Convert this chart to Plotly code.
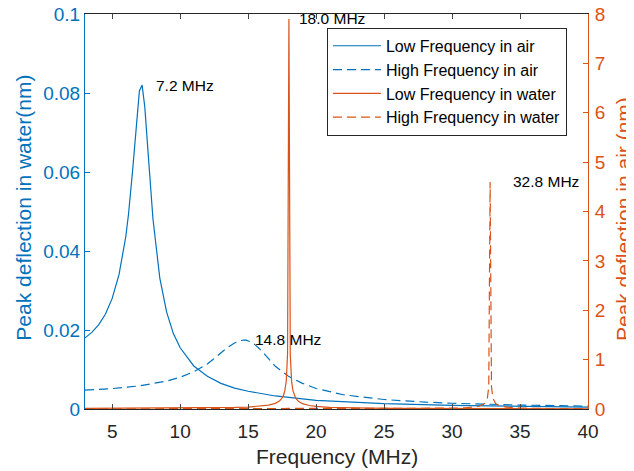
import plotly.graph_objects as go

# ---- data ----
f_low_air = [3, 3.5, 4, 4.5, 5, 5.5, 6, 6.2, 6.5, 6.8, 7.0, 7.2, 7.4, 7.6, 7.8, 8, 8.5, 9, 9.5, 10,
             11, 12, 13, 14, 15, 17, 20, 25, 30, 35, 40]
v_low_air = [0.0180, 0.0194, 0.0213, 0.0240, 0.0280, 0.0340, 0.0436, 0.0493, 0.0603, 0.0735, 0.0805,
             0.0820, 0.0764, 0.0668, 0.0567, 0.0481, 0.0332, 0.0246, 0.0191, 0.0155,
             0.0109, 0.0083, 0.0065, 0.0053, 0.0045, 0.0033, 0.0022, 0.00135, 0.00091, 0.00066, 0.0005]

f_high_air = [3, 5, 7, 9, 10, 11, 12, 13, 13.5, 14, 14.4, 14.8, 15.2, 15.5, 16, 17, 18, 19, 20,
              22, 25, 28, 30, 35, 40]
v_high_air = [0.0048, 0.00517, 0.00585, 0.00707, 0.00805, 0.00942, 0.0114, 0.01415, 0.0156, 0.0167,
              0.0173, 0.0175, 0.0170, 0.0163, 0.0147, 0.0108, 0.0082, 0.0065, 0.0052,
              0.0036, 0.0024, 0.00175, 0.00146, 0.00099, 0.00073]

f_low_water = [3, 5, 8, 10, 12, 13, 14, 15, 16, 16.5, 17, 17.3, 17.5, 17.6, 17.7, 17.8, 17.9, 18.0,
               18.1, 18.2, 18.3, 18.4, 18.5, 18.7, 19, 19.5, 20, 21, 22, 24, 26, 28, 30, 33, 36, 40]
v_low_water = [0.0126, 0.0133, 0.0153, 0.0178, 0.0221, 0.0257, 0.0311, 0.040, 0.0586, 0.077, 0.114,
               0.161, 0.224, 0.280, 0.372, 0.557, 1.11, 7.9,
               1.10, 0.55, 0.366, 0.274, 0.218, 0.155, 0.108, 0.0708, 0.0524, 0.0341, 0.0249, 0.0158,
               0.0113, 0.0087, 0.0069, 0.0052, 0.0041, 0.0031]

f_high_water = [3, 10, 15, 20, 25, 30, 31, 32, 32.4, 32.6, 32.7, 32.8, 32.9, 33.0, 33.2, 33.5, 34,
                35, 37, 40]
v_high_water = [0.0028, 0.0030, 0.0035, 0.0044, 0.0066, 0.0168, 0.0258, 0.056, 0.113, 0.225, 0.45,
                4.6, 0.45, 0.225, 0.112, 0.064, 0.037, 0.0199, 0.0101, 0.0056]

peak_f = [7.2, 14.8, 18.0, 32.8]
peak_v = [0.0820, 0.0175, 7.9, 4.6]
peak_labels = ["7.2 MHz", "14.8 MHz", "18.0 MHz", "32.8 MHz"]
peak_axis = ["y", "y", "y2", "y2"]
peak_shift = [12, 8, 8, 21]

x_ticks = [5, 10, 15, 20, 25, 30, 35, 40]

BLUE = "#0072BD"
ORANGE = "#D95319"
DARK = "#262626"
FONT = "Liberation Sans, Arial, sans-serif"

fig = go.Figure()
fig.add_trace(go.Scatter(x=f_low_air, y=v_low_air, mode="lines", name="Low Frequency in air",
                         line=dict(color=BLUE, width=1.2), yaxis="y"))
fig.add_trace(go.Scatter(x=f_high_air, y=v_high_air, mode="lines", name="High Frequency in air",
                         line=dict(color=BLUE, width=1.2, dash="9px,5px"), yaxis="y"))
fig.add_trace(go.Scatter(x=f_low_water, y=v_low_water, mode="lines", name="Low Frequency in water",
                         line=dict(color=ORANGE, width=1.2), yaxis="y2"))
fig.add_trace(go.Scatter(x=f_high_water, y=v_high_water, mode="lines", name="High Frequency in water",
                         line=dict(color=ORANGE, width=1.2, dash="9px,5px"), yaxis="y2"))

annotations = []
for fx, fv, txt, ax, sh in zip(peak_f, peak_v, peak_labels, peak_axis, peak_shift):
    annotations.append(dict(x=fx, y=fv, xref="x", yref=ax, text=txt, showarrow=False,
                            xanchor="left", yanchor="middle", xshift=sh,
                            font=dict(size=15.5, color="black", family=FONT)))

# axis titles
annotations.append(dict(x=0.5, y=-0.1215, xref="paper", yref="paper", text="Frequency (MHz)",
                        showarrow=False, xanchor="center", yanchor="middle",
                        font=dict(size=21, color=DARK, family=FONT)))
annotations.append(dict(x=-0.123, y=0.51, xref="paper", yref="paper",
                        text="Peak deflection in water(nm)", textangle=-90,
                        showarrow=False, xanchor="center", yanchor="middle",
                        font=dict(size=21, color=BLUE, family=FONT)))
annotations.append(dict(x=1.071, y=0.48, xref="paper", yref="paper",
                        text="Peak deflection in air (nm)", textangle=-90,
                        showarrow=False, xanchor="center", yanchor="middle",
                        font=dict(size=21, color=ORANGE, family=FONT)))

# the page body adds an 8px offset; size/margins compensate so the plot area sits at
# x 85..588, y 14..409 of the 634x471 window
fig.update_layout(
    width=626, height=463,
    margin=dict(l=77, r=46, t=6, b=62, autoexpand=False),
    paper_bgcolor="white", plot_bgcolor="white",
    font=dict(family=FONT),
    showlegend=True,
    legend=dict(x=0.481, y=0.965, xanchor="left", yanchor="top",
                bgcolor="white", bordercolor=DARK, borderwidth=1,
                font=dict(size=16, color="black", family=FONT),
                itemwidth=48, tracegroupgap=0),
    xaxis=dict(range=[3, 40], tickvals=x_ticks, ticks="inside", ticklen=5,
               showline=True, linecolor=DARK, linewidth=1, mirror="ticks",
               showgrid=False, zeroline=False, automargin=False,
               ticklabelstandoff=5, ticklabeloverflow="allow",
               tickfont=dict(size=19, color=DARK, family=FONT)),
    yaxis=dict(range=[0, 0.1], dtick=0.02, ticks="inside", ticklen=5,
               showline=True, linecolor=BLUE, tickcolor=BLUE, linewidth=1,
               showgrid=False, zeroline=False, automargin=False,
               ticklabeloverflow="allow",
               tickfont=dict(size=19, color=BLUE, family=FONT)),
    yaxis2=dict(range=[0, 8], dtick=1, ticks="inside", ticklen=5,
                overlaying="y", side="right", automargin=False,
                showline=True, linecolor=ORANGE, tickcolor=ORANGE, linewidth=1,
                showgrid=False, zeroline=False, ticklabelstandoff=2,
                ticklabeloverflow="allow",
                tickfont=dict(size=19, color=ORANGE, family=FONT)),
    annotations=annotations,
)

fig.write_html("out.html")
